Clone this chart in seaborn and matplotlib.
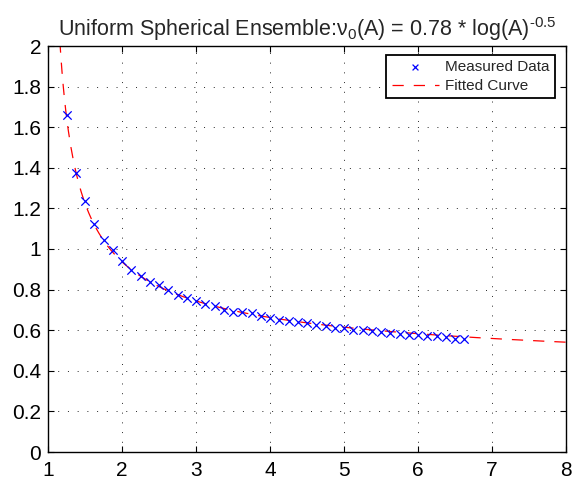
import numpy as np
import pandas as pd
import matplotlib
matplotlib.use("Agg")
import matplotlib.pyplot as plt
import seaborn as sns

# ---- data ----
area = [1.25, 1.375, 1.5, 1.625, 1.75, 1.875, 2.0, 2.125, 2.25, 2.375, 2.5,
        2.625, 2.75, 2.875, 3.0, 3.125, 3.25, 3.375, 3.5, 3.625, 3.75, 3.875,
        4.0, 4.125, 4.25, 4.375, 4.5, 4.625, 4.75, 4.875, 5.0, 5.125, 5.25,
        5.375, 5.5, 5.625, 5.75, 5.875, 6.0, 6.125, 6.25, 6.375, 6.5, 6.625]
measured = [1.660, 1.375, 1.235, 1.125, 1.043, 0.995, 0.939, 0.897, 0.867,
            0.836, 0.823, 0.800, 0.772, 0.757, 0.745, 0.727, 0.717, 0.700,
            0.688, 0.688, 0.684, 0.670, 0.660, 0.652, 0.647, 0.639, 0.634,
            0.627, 0.619, 0.609, 0.609, 0.603, 0.603, 0.598, 0.593, 0.587,
            0.581, 0.576, 0.576, 0.573, 0.570, 0.565, 0.559, 0.556]
fit_coef = 0.78
fit_exp = -0.5
fit_range = (1.12, 8.0)
x_ticks = [1, 2, 3, 4, 5, 6, 7, 8]
y_ticks = [0, 0.2, 0.4, 0.6, 0.8, 1, 1.2, 1.4, 1.6, 1.8, 2]
y_tick_labels = ["0", "0.2", "0.4", "0.6", "0.8", "1", "1.2", "1.4", "1.6", "1.8", "2"]
title = "Uniform Spherical Ensemble:ν$_0$(A) = 0.78 * log(A)$^{\u20100.5}$"

# ---- style ----
sns.set_theme(style="white")
plt.rcParams["font.family"] = ["Liberation Sans", "DejaVu Sans"]
plt.rcParams["mathtext.fontset"] = "custom"
plt.rcParams["mathtext.rm"] = "Liberation Sans"
plt.rcParams["mathtext.it"] = "Liberation Sans:italic"
plt.rcParams["mathtext.bf"] = "Liberation Sans:bold"

fig = plt.figure(figsize=(5.76, 4.8), dpi=100)
ax = fig.add_axes([48 / 576, 1 - 452 / 480, (566 - 48) / 576, (452 - 46) / 480])

df_meas = pd.DataFrame({"A": area, "v": measured})
xf = np.linspace(fit_range[0], fit_range[1], 400)
df_fit = pd.DataFrame({"A": xf, "v": fit_coef * np.log(xf) ** fit_exp})

sns.lineplot(data=df_fit, x="A", y="v", ax=ax, color=(1, 0, 0), linewidth=0.9,
             dashes=False, label="Fitted Curve", zorder=2)
ax.lines[-1].set_dashes((9, 8))
sns.scatterplot(data=df_meas, x="A", y="v", ax=ax, marker="x", color=(0, 0, 1),
                s=36, linewidth=0.9, label="Measured Data", zorder=3)

ax.set_xlim(1, 8)
ax.set_ylim(0, 2)
ax.set_xticks(x_ticks)
ax.set_xticklabels([str(t) for t in x_ticks])
ax.set_yticks(y_ticks)
ax.set_yticklabels(y_tick_labels)
ax.set_xlabel("")
ax.set_ylabel("")

ax.grid(True, color="black", linestyle=(0, (1, 9)), linewidth=0.7, alpha=0.85)
for s in ax.spines.values():
    s.set_visible(True)
    s.set_color("black")
    s.set_linewidth(1.0)
ax.tick_params(direction="in", length=4, width=0.8, top=True, right=True,
               bottom=True, left=True, labelsize=15, colors="black")
ax.tick_params(axis="x", pad=6.5)
ax.tick_params(axis="y", pad=5)

ax.set_title(title, fontsize=15.5, pad=7)

handles, labels = ax.get_legend_handles_labels()
order = [labels.index("Measured Data"), labels.index("Fitted Curve")]
leg = ax.legend([handles[i] for i in order], [labels[i] for i in order],
                loc="upper right", bbox_to_anchor=(0.979, 0.978), fontsize=11,
                frameon=True, fancybox=False, edgecolor="black",
                framealpha=1, borderpad=0.35, handlelength=3.1, markerscale=0.7,
                labelspacing=0.3, borderaxespad=0.0, handletextpad=0.4)
leg.get_frame().set_linewidth(1.3)

fig.savefig("out.png", dpi=100)
